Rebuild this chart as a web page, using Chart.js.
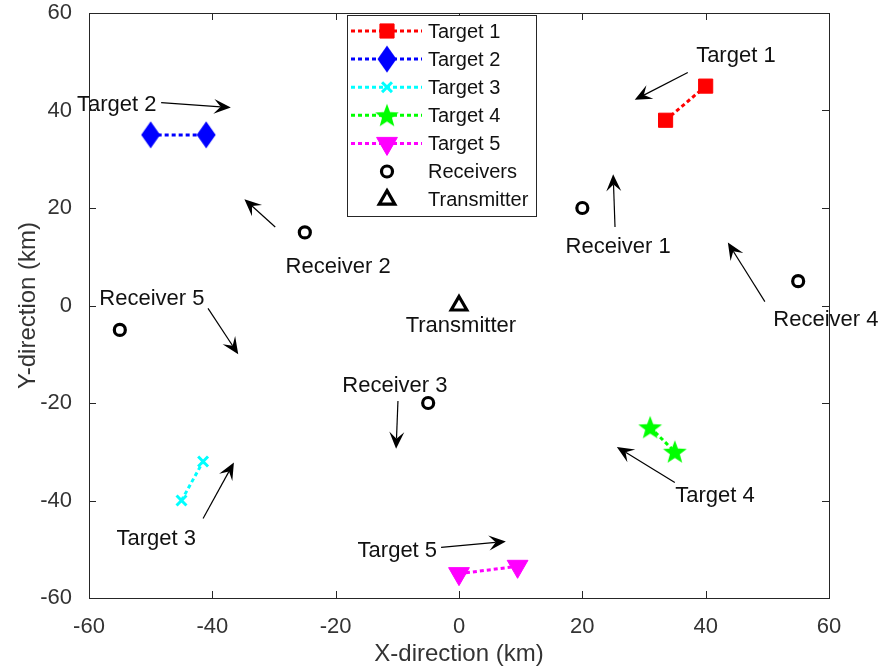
<!DOCTYPE html>
<html>
<head>
<meta charset="utf-8">
<script src="https://cdn.jsdelivr.net/npm/chart.js@4/dist/chart.umd.min.js"></script>
<style>
  html, body { margin: 0; padding: 0; background: #fff; }
</style>
</head>
<body>
<canvas id="c" width="886" height="672"></canvas>
<script>
// ---- Positions (km) ----
const target1X = [33.5, 40];   const target1Y = [38, 45];
const target2X = [-50, -41];   const target2Y = [35, 35];
const target3X = [-45, -41.5]; const target3Y = [-40, -32];
const target4X = [31, 35];     const target4Y = [-25, -30];
const target5X = [0, 9.5];     const target5Y = [-55, -53.5];
const receiverX = [20, -25, -5, 55, -55];
const receiverY = [20, 15, -20, 5, -5];
const transmitterX = [0];
const transmitterY = [0];

const seriesNames = ['Target 1', 'Target 2', 'Target 3', 'Target 4', 'Target 5', 'Receivers', 'Transmitter'];
const axisTicks = [-60, -40, -20, 0, 20, 40, 60];

// ---- Text annotations (data coordinates of text centre) ----
const noteText = ['Target 1', 'Target 2', 'Receiver 1', 'Receiver 2', 'Receiver 4',
                  'Receiver 5', 'Transmitter', 'Receiver 3', 'Target 3', 'Target 4', 'Target 5'];
const noteX = [44.9, -55.5, 25.8, -19.6, 59.5, -49.8, 0.3, -10.4, -49.1, 41.5, -10.0];
const noteY = [51.2, 41.2, 12.0, 8.0, -2.9, 1.4, -4.1, -16.5, -47.8, -39.0, -50.4];

// ---- Arrows (tail -> head, data coordinates) ----
const arrowFromX = [37.1, -48.3, 25.3, -29.8, 49.6, -40.7, -9.9, -41.5, 35.0, -2.9];
const arrowFromY = [47.8, 41.6, 16.1, 16.1, 0.8, -0.6, -19.6, -43.7, -36.3, -49.6];
const arrowToX   = [28.5, -37.0, 25.0, -34.8, 43.6, -35.8, -10.2, -36.5, 25.6, 7.6];
const arrowToY   = [42.2, 40.6, 26.9, 21.8, 12.9, -10.0, -29.4, -32.2, -29.0, -48.4];

const FONT = "'Liberation Sans', Arial, Helvetica, sans-serif";

function zip(xs, ys) { return xs.map((x, i) => ({ x: x, y: ys[i] })); }

function makeMarker(w, h, draw) {
  const c = document.createElement('canvas');
  c.width = w; c.height = h;
  draw(c.getContext('2d'), w, h);
  return c;
}

// Filled blue diamond (taller than wide)
const diamondMarker = makeMarker(20, 28, (g, w, h) => {
  g.fillStyle = '#0000ff';
  g.beginPath();
  g.moveTo(w / 2, 0.5); g.lineTo(w - 0.5, h / 2); g.lineTo(w / 2, h - 0.5); g.lineTo(0.5, h / 2);
  g.closePath(); g.fill();
});

// Filled green five-point star
const starMarker = makeMarker(26, 26, (g, w, h) => {
  const cx = w / 2, cy = h / 2 + 1, R = 12.5, r = 5.2;
  g.fillStyle = '#00ff00';
  g.beginPath();
  for (let i = 0; i < 10; i++) {
    const rad = (i % 2 === 0) ? R : r;
    const a = -Math.PI / 2 + i * Math.PI / 5;
    const px = cx + rad * Math.cos(a), py = cy + rad * Math.sin(a);
    if (i === 0) g.moveTo(px, py); else g.lineTo(px, py);
  }
  g.closePath(); g.fill();
});

function targetSet(label, xs, ys, color, style) {
  return Object.assign({
    label: label,
    data: zip(xs, ys),
    showLine: true,
    borderColor: color,
    backgroundColor: color,
    borderWidth: 3,
    borderDash: [4, 3],
    pointBorderColor: color,
    pointBackgroundColor: color,
    pointBorderWidth: 1,
    clip: false
  }, style);
}

const datasets = [
  targetSet(seriesNames[0], target1X, target1Y, '#ff0000', { pointStyle: 'rect', pointRadius: 10 }),
  targetSet(seriesNames[1], target2X, target2Y, '#0000ff', { pointStyle: diamondMarker, pointRadius: 12 }),
  targetSet(seriesNames[2], target3X, target3Y, '#00ffff', { pointStyle: 'crossRot', pointRadius: 7, pointBorderWidth: 3 }),
  targetSet(seriesNames[3], target4X, target4Y, '#00ff00', { pointStyle: starMarker, pointRadius: 12 }),
  targetSet(seriesNames[4], target5X, target5Y, '#ff00ff', { pointStyle: 'triangle', pointRotation: 180, pointRadius: 12 }),
  {
    label: seriesNames[5],
    data: zip(receiverX, receiverY),
    showLine: false,
    pointStyle: 'circle',
    pointRadius: 5.5,
    pointBorderWidth: 3.2,
    pointBorderColor: '#000',
    pointBackgroundColor: 'rgba(0,0,0,0)',
    borderColor: '#000',
    backgroundColor: 'rgba(0,0,0,0)',
    clip: false
  },
  {
    label: seriesNames[6],
    data: zip(transmitterX, transmitterY),
    showLine: false,
    pointStyle: 'triangle',
    pointRadius: 9,
    pointBorderWidth: 3.2,
    pointBorderColor: '#000',
    pointBackgroundColor: 'rgba(0,0,0,0)',
    borderColor: '#000',
    backgroundColor: 'rgba(0,0,0,0)',
    clip: false
  }
];

function drawArrow(ctx, x1, y1, x2, y2) {
  const ang = Math.atan2(y2 - y1, x2 - x1);
  const L = 17, W = 7.5;
  ctx.beginPath();
  ctx.moveTo(x1, y1);
  ctx.lineTo(x2 - Math.cos(ang) * L * 0.6, y2 - Math.sin(ang) * L * 0.6);
  ctx.stroke();
  ctx.save();
  ctx.translate(x2, y2);
  ctx.rotate(ang);
  ctx.beginPath();
  ctx.moveTo(0, 0);
  ctx.lineTo(-L, -W);
  ctx.lineTo(-L * 0.6, 0);
  ctx.lineTo(-L, W);
  ctx.closePath();
  ctx.fill();
  ctx.restore();
}

// Axes box with inward ticks on all four sides
const boxPlugin = {
  id: 'boxAxes',
  afterDraw(chart) {
    const { ctx, chartArea: a, scales } = chart;
    ctx.save();
    ctx.strokeStyle = '#262626';
    ctx.lineWidth = 1;
    ctx.strokeRect(Math.round(a.left) + 0.5, Math.round(a.top) + 0.5,
                   Math.round(a.right - a.left), Math.round(a.bottom - a.top));
    const tl = 7;
    ctx.beginPath();
    axisTicks.forEach(v => {
      const px = Math.round(scales.x.getPixelForValue(v)) + 0.5;
      ctx.moveTo(px, a.bottom); ctx.lineTo(px, a.bottom - tl);
      ctx.moveTo(px, a.top); ctx.lineTo(px, a.top + tl);
      const py = Math.round(scales.y.getPixelForValue(v)) + 0.5;
      ctx.moveTo(a.left, py); ctx.lineTo(a.left + tl, py);
      ctx.moveTo(a.right, py); ctx.lineTo(a.right - tl, py);
    });
    ctx.stroke();
    ctx.restore();
  }
};

// Text labels and arrows
const notesPlugin = {
  id: 'notes',
  afterDatasetsDraw(chart) {
    const { ctx, scales } = chart;
    const sx = scales.x, sy = scales.y;
    ctx.save();
    ctx.strokeStyle = '#000';
    ctx.fillStyle = '#000';
    ctx.lineWidth = 1.2;
    for (let i = 0; i < arrowFromX.length; i++) {
      drawArrow(ctx,
        sx.getPixelForValue(arrowFromX[i]), sy.getPixelForValue(arrowFromY[i]),
        sx.getPixelForValue(arrowToX[i]), sy.getPixelForValue(arrowToY[i]));
    }
    ctx.font = '22px ' + FONT;
    ctx.textAlign = 'center';
    ctx.textBaseline = 'middle';
    ctx.fillStyle = '#111';
    noteText.forEach((t, i) => {
      ctx.fillText(t, sx.getPixelForValue(noteX[i]), sy.getPixelForValue(noteY[i]));
    });
    ctx.restore();
  }
};

// Legend box: dashed line sample + marker + name
const legendPlugin = {
  id: 'lineMarkerLegend',
  afterDraw(chart) {
    const { ctx, chartArea: a } = chart;
    const left = a.left + 258, top = a.top + 2, w = 189, h = 201;
    const rowStart = 16, rowStep = 28.1;
    ctx.save();
    ctx.fillStyle = '#fff';
    ctx.fillRect(left, top, w, h);
    ctx.strokeStyle = '#262626';
    ctx.lineWidth = 1;
    ctx.strokeRect(Math.round(left) + 0.5, Math.round(top) + 0.5, w, h);
    chart.data.datasets.forEach((ds, i) => {
      const y = top + rowStart + i * rowStep;
      const lx1 = left + 4, lx2 = left + 75, mx = left + 40;
      if (ds.showLine) {
        ctx.save();
        ctx.strokeStyle = ds.borderColor;
        ctx.lineWidth = ds.borderWidth;
        ctx.setLineDash(ds.borderDash || []);
        ctx.beginPath(); ctx.moveTo(lx1, y); ctx.lineTo(lx2, y); ctx.stroke();
        ctx.restore();
      }
      ctx.save();
      ctx.setLineDash([]);
      ctx.fillStyle = ds.pointBackgroundColor;
      ctx.strokeStyle = ds.pointBorderColor;
      ctx.lineWidth = ds.pointBorderWidth;
      Chart.helpers.drawPoint(ctx, {
        pointStyle: ds.pointStyle,
        radius: ds.pointRadius,
        rotation: ds.pointRotation || 0,
        borderWidth: ds.pointBorderWidth
      }, mx, y);
      ctx.restore();
      ctx.fillStyle = '#111';
      ctx.font = '20px ' + FONT;
      ctx.textAlign = 'left';
      ctx.textBaseline = 'middle';
      ctx.fillText(ds.label, left + 81, y + 1);
    });
    ctx.restore();
  }
};

new Chart(document.getElementById('c'), {
  type: 'scatter',
  data: { datasets: datasets },
  options: {
    responsive: false,
    animation: false,
    layout: { padding: { top: 10, right: 57, left: 0, bottom: 0 } },
    plugins: { legend: { display: false }, tooltip: { enabled: false } },
    elements: { line: { tension: 0 } },
    scales: {
      x: {
        type: 'linear', min: -60, max: 60,
        ticks: { stepSize: 20, color: '#333', padding: 8, maxRotation: 0,
                 font: { family: FONT, size: 22 } },
        grid: { display: false },
        border: { display: false },
        title: { display: true, text: 'X-direction (km)', color: '#333',
                 font: { family: FONT, size: 24 }, padding: { top: 0, bottom: 3 } },
        afterFit(s) { s.height = 74; s.paddingLeft = 0; s.paddingRight = 0; }
      },
      y: {
        type: 'linear', min: -60, max: 60,
        ticks: { stepSize: 20, color: '#333', padding: 9,
                 font: { family: FONT, size: 22 } },
        grid: { display: false },
        border: { display: false },
        title: { display: true, text: 'Y-direction (km)', color: '#333',
                 font: { family: FONT, size: 24 }, padding: { top: 14, bottom: 0 } },
        afterFit(s) { s.width = 89; s.paddingTop = 0; s.paddingBottom = 0; }
      }
    }
  },
  plugins: [boxPlugin, notesPlugin, legendPlugin]
});
</script>
</body>
</html>
